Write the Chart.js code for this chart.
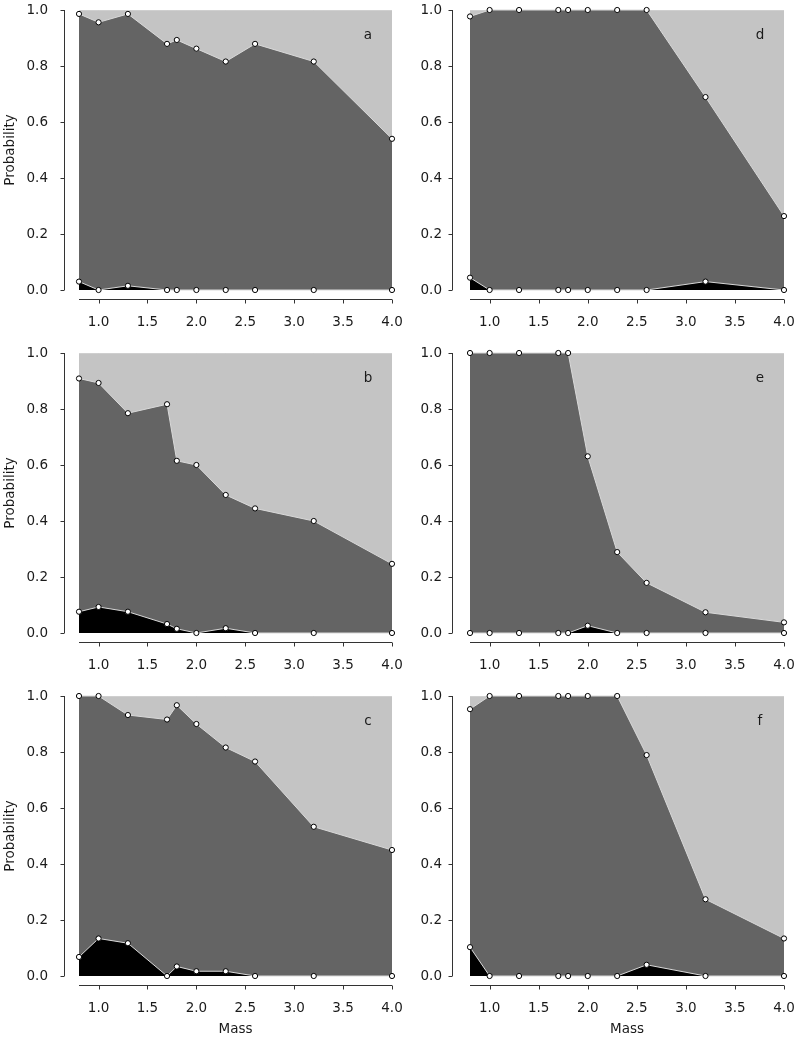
<!DOCTYPE html>
<html>
<head>
<meta charset="utf-8">
<title>Probability vs Mass</title>
<script src="https://cdn.jsdelivr.net/npm/chart.js@4.4.1/dist/chart.umd.min.js"></script>
<style>
  html, body { margin: 0; padding: 0; background: #fff; }
  #wrap { position: relative; width: 797px; height: 1040px; overflow: hidden; }
  canvas { position: absolute; display: block; }
</style>
</head>
<body>
<div id="wrap">
  <canvas id="pa" width="420" height="343" style="left:0;top:0"></canvas>
  <canvas id="pb" width="420" height="343" style="left:0;top:343px"></canvas>
  <canvas id="pc" width="420" height="354" style="left:0;top:686px"></canvas>
  <canvas id="pd" width="399" height="343" style="left:398px;top:0"></canvas>
  <canvas id="pe" width="399" height="343" style="left:398px;top:343px"></canvas>
  <canvas id="pf" width="399" height="354" style="left:398px;top:686px"></canvas>
</div>
<script>
const mass = [0.8, 1.0, 1.3, 1.7, 1.8, 2.0, 2.3, 2.6, 3.2, 4.0];
const xTicks = [1.0, 1.5, 2.0, 2.5, 3.0, 3.5, 4.0];
const yTicks = [0, 0.2, 0.4, 0.6, 0.8, 1.0];
const total = [1, 1, 1, 1, 1, 1, 1, 1, 1, 1];

// upper = edge between dark and light grey, lower = edge between black and dark grey
const upperA = [0.986, 0.956, 0.986, 0.879, 0.893, 0.862, 0.816, 0.879, 0.816, 0.540];
const lowerA = [0.030, 0, 0.015, 0, 0, 0, 0, 0, 0, 0];
const upperB = [0.909, 0.893, 0.785, 0.817, 0.615, 0.600, 0.493, 0.445, 0.400, 0.247];
const lowerB = [0.076, 0.093, 0.076, 0.032, 0.015, 0, 0.017, 0, 0, 0];
const upperC = [1.0, 1.0, 0.932, 0.916, 0.967, 0.900, 0.816, 0.766, 0.533, 0.450];
const lowerC = [0.068, 0.134, 0.117, 0, 0.034, 0.017, 0.017, 0, 0, 0];
const upperD = [0.977, 1, 1, 1, 1, 1, 1, 1, 0.689, 0.264];
const lowerD = [0.044, 0, 0, 0, 0, 0, 0, 0, 0.030, 0];
const upperE = [1, 1, 1, 1, 1, 0.631, 0.289, 0.179, 0.074, 0.038];
const lowerE = [0, 0, 0, 0, 0, 0.026, 0, 0, 0, 0];
const upperF = [0.953, 1, 1, 1, 1, 1, 1, 0.789, 0.274, 0.134];
const lowerF = [0.103, 0, 0, 0, 0, 0, 0, 0.040, 0, 0];

const panels = [
  { id: "pa", letter: "a", upper: upperA, lower: lowerA, col: 0, row: 0 },
  { id: "pb", letter: "b", upper: upperB, lower: lowerB, col: 0, row: 1 },
  { id: "pc", letter: "c", upper: upperC, lower: lowerC, col: 0, row: 2 },
  { id: "pd", letter: "d", upper: upperD, lower: lowerD, col: 1, row: 0 },
  { id: "pe", letter: "e", upper: upperE, lower: lowerE, col: 1, row: 1 },
  { id: "pf", letter: "f", upper: upperF, lower: lowerF, col: 1, row: 2 }
];

const FONT = "'DejaVu Sans', sans-serif";
const TEXT = "#1a1a1a";
const EDGE = "#d9d9d9";

function pts(arr) {
  return mass.map((m, i) => ({ x: m, y: arr[i] }));
}

function noPadding(s) {
  s.paddingTop = 0;
  s.paddingBottom = 0;
  s.paddingLeft = 0;
  s.paddingRight = 0;
}

// R-style detached axes plus panel letter
const rAxes = {
  id: "rAxes",
  afterDraw(chart, args, opts) {
    const { ctx, chartArea, scales: { x, y } } = chart;
    ctx.save();
    ctx.strokeStyle = "#333";
    ctx.lineWidth = 1;
    ctx.beginPath();
    const ax = Math.round(chartArea.left - opts.yGap) + 0.5;
    ctx.moveTo(ax, y.getPixelForValue(yTicks[0]));
    ctx.lineTo(ax, y.getPixelForValue(yTicks[yTicks.length - 1]));
    yTicks.forEach(v => {
      const py = Math.round(y.getPixelForValue(v)) + 0.5;
      ctx.moveTo(ax, py);
      ctx.lineTo(ax - 4, py);
    });
    const ay = Math.round(chartArea.bottom + 9) + 0.5;
    ctx.moveTo(x.getPixelForValue(mass[0]), ay);
    ctx.lineTo(x.getPixelForValue(mass[mass.length - 1]), ay);
    xTicks.forEach(v => {
      const px = Math.round(x.getPixelForValue(v)) + 0.5;
      ctx.moveTo(px, ay);
      ctx.lineTo(px, ay + 4);
    });
    ctx.stroke();

    ctx.fillStyle = TEXT;
    ctx.font = "13.5px " + FONT;
    ctx.textAlign = "center";
    ctx.textBaseline = "middle";
    ctx.fillText(opts.letter, chartArea.right - 24, chartArea.top + 25);
    ctx.restore();
  }
};

function makePanel(p) {
  const left = p.col === 0;
  const last = p.row === 2;
  const pointStyle = {
    pointRadius: 2.6,
    pointBackgroundColor: "#fff",
    pointBorderColor: "#000",
    pointBorderWidth: 1
  };

  new Chart(document.getElementById(p.id), {
    type: "line",
    data: {
      datasets: [
        Object.assign({ data: pts(p.lower), fill: "origin", backgroundColor: "#000",
          borderColor: EDGE, borderWidth: 1, clip: false }, pointStyle),
        Object.assign({ data: pts(p.upper), fill: "origin", backgroundColor: "#646464",
          borderColor: EDGE, borderWidth: 1, clip: false }, pointStyle),
        { data: pts(total), fill: "origin", backgroundColor: "#c4c4c4",
          borderColor: EDGE, borderWidth: 1, pointRadius: 0 }
      ]
    },
    options: {
      responsive: false,
      animation: false,
      events: [],
      layout: { padding: { top: 10, right: left ? 28 : 13, bottom: 0, left: 0 } },
      elements: { line: { tension: 0 } },
      plugins: {
        legend: { display: false },
        tooltip: { enabled: false },
        rAxes: { letter: p.letter, yGap: left ? 15 : 18 }
      },
      scales: {
        x: {
          type: "linear",
          min: 0.8,
          max: 4.0,
          grid: { display: false, drawTicks: false },
          border: { display: false },
          afterBuildTicks: s => { s.ticks = xTicks.map(v => ({ value: v })); },
          afterFit: s => { s.height = last ? 64 : 53; noPadding(s); },
          ticks: {
            padding: 24,
            color: TEXT,
            maxRotation: 0,
            font: { family: FONT, size: 13.5 },
            callback: v => Number(v).toFixed(1)
          },
          title: {
            display: last,
            text: "Mass",
            color: TEXT,
            padding: { top: 2, bottom: 2 },
            font: { family: FONT, size: 13.5 }
          }
        },
        y: {
          min: 0,
          max: 1,
          grid: { display: false, drawTicks: false },
          border: { display: false },
          afterBuildTicks: s => { s.ticks = yTicks.map(v => ({ value: v })); },
          afterFit: s => { s.width = left ? 79 : 72; noPadding(s); },
          ticks: {
            padding: left ? 31 : 28,
            color: TEXT,
            font: { family: FONT, size: 13.5 },
            callback: v => Number(v).toFixed(1)
          },
          title: {
            display: left,
            text: "Probability",
            color: TEXT,
            padding: { top: 2, bottom: 2 },
            font: { family: FONT, size: 13.5 }
          }
        }
      }
    },
    plugins: [rAxes]
  });
}

panels.forEach(makePanel);
</script>
</body>
</html>
